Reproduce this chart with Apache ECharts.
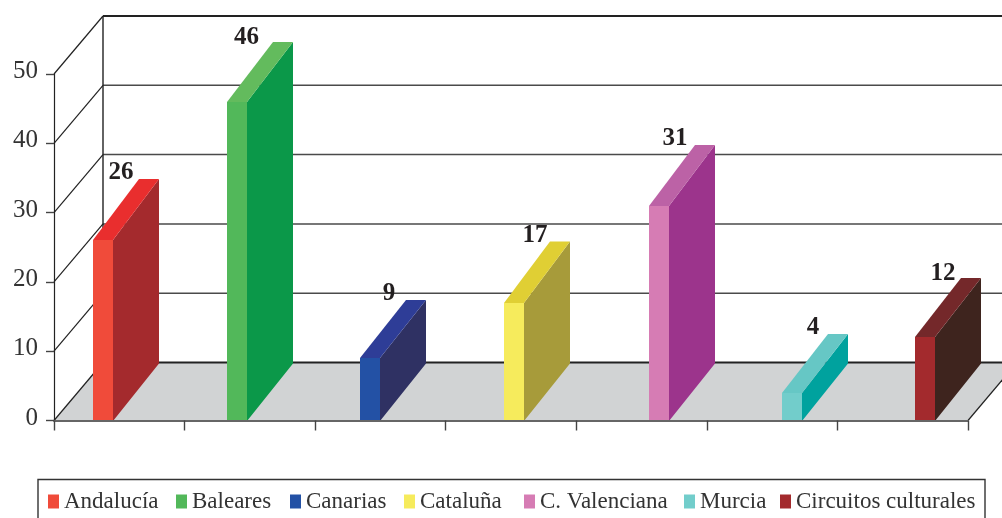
<!DOCTYPE html>
<html>
<head>
<meta charset="utf-8">
<script src="https://cdn.jsdelivr.net/npm/echarts@6/dist/echarts.min.js"></script>
<style>html,body{margin:0;padding:0;background:#fff}#c{width:1002px;height:518px}</style>
</head>
<body>
<div id="c"></div>
<script>
const categories = ['Andalucía','Baleares','Canarias','Cataluña','C. Valenciana','Murcia','Circuitos culturales'];
const values = [26,46,9,17,31,4,12];
const yTicks = [0,10,20,30,40,50];
const frontColors = ['#F04B3A','#52B85A','#2351A5','#F6EB5C','#D67CB4','#72CDCB','#A32A2D'];
const topColors   = ['#E92E2E','#63BB5D','#2E3D97','#E0CF34','#BC62A6','#66C7C5','#74282A'];
const sideColors  = ['#A42A2D','#0B9849','#2F3163','#A79B3A','#9C348C','#00A29E','#3E241E'];

// Layout only: bar offset inside its band, label offsets, top-face depth, legend x positions
const barShift = [-0.128,-0.10,-0.077,0.02,0.13,0.15,0.17];
const labelShiftX = [18,9.5,19,21,16,21,18];
const labelLift = [67.5,64,65,67,67,65,64];
const topDepth = [61,60,58,61.5,61,59,59];
const legendLeft = [48,176,290,404,524,684,780];

const FONT = '"Liberation Serif", serif';
const INK = '#333333';
const WALL_X = 49, WALL_Y = 58, BAR_W = 20, BAR_DX = 46, BAR_DY = 57.5;

function renderFloor(params, api) {
  const a = api.coord([0, 0]), w = params.coordSys;
  const x0 = w.x, x1 = w.x + w.width, y = a[1];
  return {
    type: 'group',
    children: [
      { type:'polygon', shape:{points:[[x0,y],[x1,y],[x1+WALL_X,y-WALL_Y],[x0+WALL_X,y-WALL_Y]]}, style:{fill:'#D1D3D4'} },
      { type:'line', shape:{x1:x1,y1:y,x2:x1+WALL_X,y2:y-WALL_Y}, style:{stroke:'#222',lineWidth:1.2} }
    ]
  };
}
function renderFrame(params, api) {
  const w = params.coordSys;
  const v = api.value(0);
  const y = api.coord([0, v])[1];
  const x0 = w.x, bx = x0 + WALL_X, by = y - WALL_Y;
  const heavy = v === 0 || v === 50;
  return {
    type:'group',
    children:[
      { type:'line', shape:{x1:x0,y1:y,x2:bx,y2:by}, style:{stroke:'#222',lineWidth:1.2} },
      { type:'line', shape:{x1:bx,y1:by,x2:1010,y2:by}, style:{stroke:heavy?'#222':'#4a4a4a',lineWidth:heavy?2:1.5} }
    ]
  };
}
function renderWall(params, api) {
  const w = params.coordSys;
  const t = api.coord([0,50])[1] - WALL_Y, b = api.coord([0,0])[1] - WALL_Y, x = w.x + WALL_X;
  return { type:'line', shape:{x1:x,y1:t,x2:x,y2:b}, style:{stroke:'#222',lineWidth:1.4} };
}
function renderBar(params, api) {
  const idx = api.value(0), val = api.value(1);
  const band = api.size([1,0])[0];
  const c = api.coord([idx, val]), z = api.coord([idx, 0]);
  const l = Math.round(c[0] + barShift[idx]*band - BAR_W/2), r = l + BAR_W;
  const t = Math.round(c[1]), b = Math.round(z[1]);
  const dx = BAR_DX, td = topDepth[idx];
  return {
    type:'group',
    children:[
      { type:'polygon', shape:{points:[[r-1,t],[r,t],[r+dx,t-td],[r+dx,b-BAR_DY],[r,b],[r-1,b]]}, style:{fill:sideColors[idx]} },
      { type:'polygon', shape:{points:[[l+1,t+1],[l,t],[l+dx,t-td],[r+dx,t-td],[r,t],[r-1,t+1]]}, style:{fill:topColors[idx]} },
      { type:'rect', shape:{x:l,y:t,width:BAR_W,height:b-t}, style:{fill:frontColors[idx]} },
      { type:'text', x:l+BAR_W/2+labelShiftX[idx], y:c[1]-labelLift[idx],
        style:{text:String(val),fill:'#231F20',font:'bold 25px '+FONT,align:'center',verticalAlign:'middle'} }
    ]
  };
}

const chart = echarts.init(document.getElementById('c'), null, {renderer:'canvas'});
const baseSeries = [
  {type:'custom',name:'floor',silent:true,renderItem:renderFloor,data:[[0]],z:1,clip:false,encode:{y:0}},
  {type:'custom',name:'frame',silent:true,renderItem:renderFrame,data:yTicks.map(v=>[v]),z:2,clip:false,encode:{y:0}},
  {type:'custom',name:'wall',silent:true,renderItem:renderWall,data:[[0]],z:2,clip:false,encode:{y:0}}
];
const barSeries = categories.map((name,i)=>({
  type:'custom',name,renderItem:renderBar,data:[[i,values[i]]],z:5,clip:false,
  encode:{x:0,y:1},itemStyle:{color:frontColors[i]}
}));
chart.setOption({
  animation:false,
  backgroundColor:'#fff',
  grid:{left:54,right:34,top:74,bottom:97.5},
  xAxis:{type:'category',data:categories,boundaryGap:true,
    axisLine:{show:true,lineStyle:{color:'#666',width:2}},
    axisTick:{show:true,alignWithLabel:false,interval:0,length:10,lineStyle:{color:'#444',width:1.4}},
    axisLabel:{show:false,interval:0},splitLine:{show:false},z:6},
  yAxis:{type:'value',min:0,max:50,interval:10,
    axisLine:{show:true,lineStyle:{color:'#222',width:1.2}},
    axisTick:{show:true,length:8,lineStyle:{color:'#444',width:1.4}},
    axisLabel:{color:INK,fontFamily:FONT,fontSize:25,margin:16,verticalAlign:'bottom',lineHeight:5},
    splitLine:{show:false},z:6},
  legend: categories.map((name,i)=>({
    left:legendLeft[i],top:490,orient:'horizontal',
    data:[name],
    icon:'rect',itemWidth:11,itemHeight:14,itemGap:0,
    textStyle:{color:INK,fontFamily:FONT,fontSize:23},
    padding:0,
    selectedMode:false
  })),
  graphic:[{type:'rect',shape:{x:38,y:479.5,width:947,height:60},
    style:{fill:'none',stroke:'#333',lineWidth:1.4},silent:true}],
  series:baseSeries.concat(barSeries)
});
</script>
</body>
</html>
